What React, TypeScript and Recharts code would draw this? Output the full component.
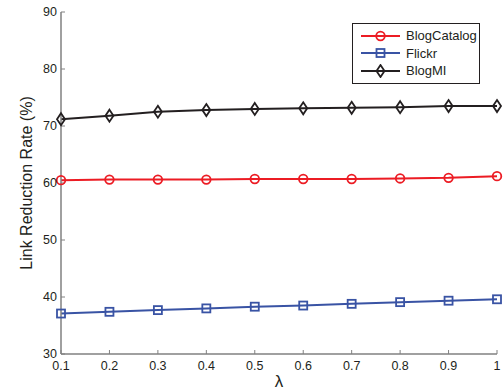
import React from "react";
import { LineChart, Line, XAxis, YAxis } from "recharts";

const lambdas = [0.1, 0.2, 0.3, 0.4, 0.5, 0.6, 0.7, 0.8, 0.9, 1];
const blogCatalog = [60.5, 60.6, 60.6, 60.6, 60.7, 60.7, 60.7, 60.8, 60.9, 61.2];
const flickr = [37.1, 37.4, 37.7, 38.0, 38.3, 38.5, 38.8, 39.1, 39.35, 39.6];
const blogMI = [71.2, 71.8, 72.5, 72.8, 73.0, 73.1, 73.2, 73.3, 73.5, 73.5];
const xTicks = [0.1, 0.2, 0.3, 0.4, 0.5, 0.6, 0.7, 0.8, 0.9, 1];
const yTicks = [30, 40, 50, 60, 70, 80, 90];

const data = lambdas.map((l, i) => ({
  lambda: l,
  BlogCatalog: blogCatalog[i],
  Flickr: flickr[i],
  BlogMI: blogMI[i],
}));

const RED = "#ec1c24";
const BLUE = "#3953a4";
const BLACK = "#231f20";
const AXIS = "#808080";
const FONT = "'Liberation Sans', Arial, sans-serif";

const CircleDot = (props: any) => {
  const { cx, cy } = props;
  if (cx == null || cy == null) return null;
  return <circle cx={cx} cy={cy} r={4.3} fill="none" stroke={RED} strokeWidth={1.8} />;
};
const SquareDot = (props: any) => {
  const { cx, cy } = props;
  if (cx == null || cy == null) return null;
  return <rect x={cx - 4} y={cy - 4} width={8} height={8} fill="none" stroke={BLUE} strokeWidth={1.8} />;
};
const DiamondDot = (props: any) => {
  const { cx, cy } = props;
  if (cx == null || cy == null) return null;
  return (
    <path
      d={`M${cx},${cy - 6} L${cx + 4},${cy} L${cx},${cy + 6} L${cx - 4},${cy} Z`}
      fill="none"
      stroke={BLACK}
      strokeWidth={1.8}
    />
  );
};

const legendItems = [
  { name: "BlogCatalog", color: RED, kind: "circle" },
  { name: "Flickr", color: BLUE, kind: "square" },
  { name: "BlogMI", color: BLACK, kind: "diamond" },
];

const LegendBox = () => (
  <div
    style={{
      position: "absolute",
      left: 352,
      top: 23,
      width: 128,
      height: 61,
      border: "1px solid #231f20",
      background: "#fff",
      boxSizing: "border-box",
      paddingTop: 3,
      fontFamily: FONT,
      fontSize: 13,
      color: "#231f20",
    }}
  >
    {legendItems.map((it) => (
      <div key={it.name} style={{ display: "flex", alignItems: "center", height: 17.5 }}>
        <svg width={52} height={14} style={{ display: "block" }}>
          <line x1={8} y1={7} x2={47} y2={7} stroke={it.color} strokeWidth={2} />
          {it.kind === "circle" && <circle cx={27.5} cy={7} r={4.3} fill="none" stroke={it.color} strokeWidth={1.8} />}
          {it.kind === "square" && <rect x={23.5} y={3} width={8} height={8} fill="none" stroke={it.color} strokeWidth={1.8} />}
          {it.kind === "diamond" && (
            <path d="M27.5,1 L31.5,7 L27.5,13 L23.5,7 Z" fill="none" stroke={it.color} strokeWidth={1.8} />
          )}
        </svg>
        <span style={{ marginLeft: 1 }}>{it.name}</span>
      </div>
    ))}
  </div>
);

export default function App() {
  return (
    <div style={{ position: "absolute", left: 0, top: 0, width: 503, height: 392, background: "#fff" }}>
      <LineChart width={503} height={392} data={data} margin={{ top: 12, right: 6, left: 0, bottom: 0 }}>
        <XAxis
          dataKey="lambda"
          type="number"
          domain={[0.1, 1]}
          ticks={xTicks}
          tickFormatter={(v: number) => String(v)}
          height={38}
          stroke={AXIS}
          tickSize={-4}
          tickMargin={11}
          tick={{ fill: "#231f20", fontSize: 12.5, fontFamily: FONT }}
          axisLine={{ stroke: AXIS, strokeWidth: 1.5 }}
          label={{ value: "λ", position: "insideBottom", offset: 5, fill: "#231f20", fontSize: 17, fontFamily: FONT }}
        />
        <YAxis
          type="number"
          domain={[30, 90]}
          ticks={yTicks}
          width={61}
          stroke={AXIS}
          tickSize={-4}
          tickMargin={8}
          tick={{ fill: "#231f20", fontSize: 12.5, fontFamily: FONT }}
          axisLine={{ stroke: AXIS, strokeWidth: 1.5 }}
          label={{
            value: "Link Reduction Rate (%)",
            angle: -90,
            position: "insideLeft",
            offset: 26,
            style: { textAnchor: "middle" },
            fill: "#231f20",
            fontSize: 16,
            fontFamily: FONT,
          }}
        />
        <Line dataKey="BlogCatalog" stroke={RED} strokeWidth={2} dot={<CircleDot />} isAnimationActive={false} />
        <Line dataKey="Flickr" stroke={BLUE} strokeWidth={2} dot={<SquareDot />} isAnimationActive={false} />
        <Line dataKey="BlogMI" stroke={BLACK} strokeWidth={2} dot={<DiamondDot />} isAnimationActive={false} />
      </LineChart>
      <LegendBox />
    </div>
  );
}
